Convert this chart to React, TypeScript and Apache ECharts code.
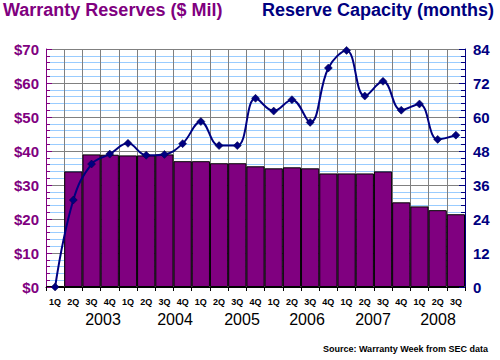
import React, { useEffect, useRef } from "react";
import * as echarts from "echarts";

const quarterLabels = [
  "1Q", "2Q", "3Q", "4Q", "1Q", "2Q", "3Q", "4Q", "1Q", "2Q", "3Q", "4Q",
  "1Q", "2Q", "3Q", "4Q", "1Q", "2Q", "3Q", "4Q", "1Q", "2Q", "3Q",
];
const yearLabels = ["2003", "2004", "2005", "2006", "2007", "2008"];
const reserves = [
  0.3, 34.0, 39.0, 38.9, 38.7, 38.7, 39.0, 37.0, 37.0, 36.4, 36.4, 35.5,
  34.9, 35.2, 34.9, 33.4, 33.4, 33.4, 34.0, 24.9, 23.7, 22.6, 21.4,
];
const capacity = [
  0, 30.7, 43.4, 46.9, 50.7, 46.5, 46.8, 50.6, 58.4, 49.9, 49.9, 66.6,
  62.1, 66.1, 58.1, 77.3, 83.5, 67.4, 72.6, 62.4, 64.6, 52.1, 53.6,
];
const leftTicks = { min: 0, max: 70, interval: 10 };
const rightTicks = { min: 0, max: 84, interval: 12 };

const PURPLE = "#800080";
const NAVY = "#000080";
const FONT = "'Liberation Sans', Arial, sans-serif";

export default function App() {
  const ref = useRef<HTMLDivElement>(null);
  useEffect(() => {
    if (!ref.current) return;
    const chart = echarts.init(ref.current, null, { renderer: "svg" });
    const yearX = [103, 175, 242, 307, 373, 438];
    chart.setOption({
      animation: false,
      backgroundColor: "#ffffff",
      textStyle: { fontFamily: FONT },
      grid: { left: 46, right: 35, top: 49, bottom: 73 },
      graphic: [
        {
          type: "text",
          left: 3,
          top: 1,
          style: { text: "Warranty Reserves ($ Mil)", fill: PURPLE, font: `bold 18px ${FONT}` },
        },
        {
          type: "text",
          left: 262,
          top: 1,
          style: { text: "Reserve Capacity (months)", fill: NAVY, font: `bold 18px ${FONT}` },
        },
        ...yearLabels.map((y, i) => ({
          type: "text",
          x: yearX[i],
          y: 319,
          style: {
            text: y,
            fill: "#000",
            font: `16px ${FONT}`,
            align: "center",
            verticalAlign: "middle",
          },
        })),
        {
          type: "text",
          x: 488,
          y: 349,
          style: {
            text: "Source: Warranty Week from SEC data",
            fill: "#000",
            font: `bold 9px ${FONT}`,
            align: "right",
            verticalAlign: "middle",
          },
        },
      ],
      xAxis: {
        type: "category",
        data: quarterLabels,
        boundaryGap: true,
        axisLine: { lineStyle: { color: "#000", width: 1 } },
        axisTick: { show: true, interval: 0, length: 4, lineStyle: { color: "#000" } },
        axisLabel: {
          interval: 0,
          fontSize: 9,
          fontWeight: "bold",
          color: "#000",
          margin: 10,
          fontFamily: FONT,
        },
        splitLine: { show: true, interval: 0, lineStyle: { color: "#808080", width: 1 } },
      },
      yAxis: [
        {
          type: "value",
          position: "left",
          ...leftTicks,
          axisLine: { show: true, lineStyle: { color: PURPLE, width: 1 } },
          axisTick: { show: true, inside: true, length: 6, lineStyle: { color: PURPLE } },
          minorTick: { show: true, splitNumber: 5, length: 4, lineStyle: { color: PURPLE } },
          axisLabel: {
            formatter: (v: number) => "$" + v,
            color: PURPLE,
            fontSize: 15,
            fontWeight: "bold",
            margin: 7,
            fontFamily: FONT,
          },
          splitLine: { show: true, lineStyle: { color: "#808080", width: 1 } },
          minorSplitLine: { show: true, lineStyle: { color: "#99ccff", width: 1 } },
        },
        {
          type: "value",
          position: "right",
          ...rightTicks,
          axisLine: { show: true, lineStyle: { color: NAVY, width: 1 } },
          axisTick: { show: true, inside: true, length: 6, lineStyle: { color: NAVY } },
          minorTick: { show: true, splitNumber: 5, length: 4, lineStyle: { color: NAVY } },
          axisLabel: {
            color: NAVY,
            fontSize: 15,
            fontWeight: "bold",
            margin: 8,
            fontFamily: FONT,
          },
          splitLine: { show: false },
        },
      ],
      series: [
        {
          type: "bar",
          data: reserves,
          yAxisIndex: 0,
          barCategoryGap: 0,
          itemStyle: { color: PURPLE, borderColor: "#000", borderWidth: 1 },
        },
        {
          type: "line",
          data: capacity,
          yAxisIndex: 1,
          smooth: 0.4,
          symbol: "diamond",
          symbolSize: 8,
          lineStyle: { color: NAVY, width: 2 },
          itemStyle: { color: NAVY, borderColor: "#000040", borderWidth: 0.5 },
        },
      ],
    });
    return () => chart.dispose();
  }, []);
  return <div ref={ref} style={{ width: 500, height: 360, position: "absolute", left: 0, top: 0 }} />;
}
